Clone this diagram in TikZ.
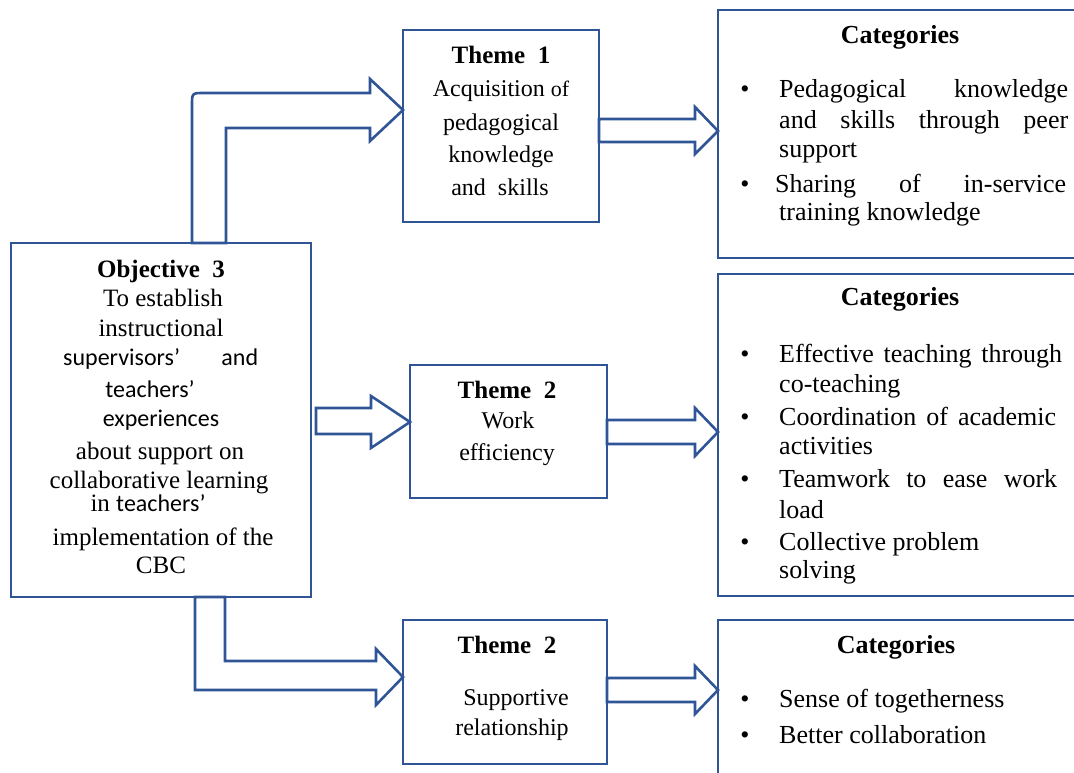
\documentclass[tikz,border=0pt]{standalone}
\usepackage{fontspec}
\setmainfont{Liberation Serif}
\newfontfamily\sansalt{Carlito}
\definecolor{frameblue}{RGB}{47,85,151}
\newcommand\objtext{\fontsize{25}{30}\selectfont}
\newcommand\cattext{\fontsize{26}{31}\selectfont}
\newcommand\thmtext{\fontsize{24}{29}\selectfont}
\newcommand\sanstext{\sansalt\fontsize{24}{29}\selectfont}
\tikzset{
  frame/.style={draw=frameblue, line width=2.6pt, outer sep=0pt, inner sep=0pt, anchor=north west},
  blockarrow/.style={draw=frameblue, line width=2.6pt, fill=white, line join=miter},
  t/.style={inner sep=0pt, anchor=base},
  tl/.style={inner sep=0pt, anchor=base west},
}
\begin{document}
\begin{tikzpicture}[x=1pt,y=-1pt]
\useasboundingbox (0,0) rectangle (1074,772);

% boxes
\node[frame, minimum width=300, minimum height=354] (obj) at (11,243) {};
\node[frame, minimum width=196, minimum height=192] (th1) at (403,30) {};
\node[frame, minimum width=197, minimum height=133] (th2) at (410,365) {};
\node[frame, minimum width=204, minimum height=144] (th3) at (403,620) {};
\node[frame, minimum width=370, minimum height=248] (cat1) at (718,10) {};
\node[frame, minimum width=370, minimum height=322] (cat2) at (718,274) {};
\node[frame, minimum width=370, minimum height=170] (cat3) at (718,620) {};

% block arrows from the objective to the themes
\draw[blockarrow] (192,0 |- obj.north) -- (192,105) .. controls (192,93) .. (204,93)
  -- (370,93) -- (370,79) -- (th1.west |- 0,110) -- (370,141) -- (370,128)
  -- (226,128) -- (226,0 |- obj.north) -- cycle;
\draw[blockarrow] (316,408) -- (371,408) -- (371,396) -- (th2.west |- 0,422)
  -- (371,448) -- (371,434) -- (316,434) -- cycle;
\draw[blockarrow] (195,0 |- obj.south) -- (195,690) -- (376,690) -- (376,705)
  -- (th3.west |- 0,677) -- (376,649) -- (376,661) -- (225,661)
  -- (225,0 |- obj.south) -- cycle;

% block arrows from the themes to the categories
\draw[blockarrow] (th1.east |- 0,119) -- (695,119) -- (695,107) -- (cat1.west |- 0,131)
  -- (695,154) -- (695,142) -- (th1.east |- 0,142) -- cycle;
\draw[blockarrow] (th2.east |- 0,420) -- (695,420) -- (695,408) -- (cat2.west |- 0,432)
  -- (695,456) -- (695,444) -- (th2.east |- 0,444) -- cycle;
\draw[blockarrow] (th3.east |- 0,678) -- (695,678) -- (695,666) -- (cat3.west |- 0,690)
  -- (695,714) -- (695,702) -- (th3.east |- 0,702) -- cycle;

% objective text
\node[t, font=\objtext\bfseries] (o1) at (161,277) {Objective\ \ 3};
\node[t, font=\objtext] (o2) at (163,306) {To establish};
\node[t, font=\objtext] (o3) at (161,336) {instructional};
\node[tl, font=\sanstext] (o4) at (63,365) {\makebox[195pt][s]{supervisors’ and}};
\node[t, font=\sanstext] (o5) at (150,397) {teachers’};
\node[t, font=\sanstext] (o6) at (161,426) {experiences};
\node[t, font=\objtext] (o7) at (160,459) {about support on};
\node[t, font=\objtext] (o8) at (159,488) {collaborative learning};
\node[t, font=\objtext] (o9) at (148,511) {in {\sanstext teachers’}};
\node[t, font=\objtext] (o10) at (163,545) {implementation of the};
\node[t, font=\objtext] (o11) at (161,573) {CBC};

% theme texts
\node[t, font=\objtext\bfseries] (t1a) at (501,63) {Theme\ \ 1};
\node[t, font=\thmtext] (t1b) at (501,96) {Acquisition {\fontsize{22}{26}\selectfont of}};
\node[t, font=\thmtext] (t1c) at (501,130) {pedagogical};
\node[t, font=\thmtext] (t1d) at (501,162) {knowledge};
\node[t, font=\thmtext] (t1e) at (500,195) {and\ \ skills};

\node[t, font=\objtext\bfseries] (t2a) at (507,398) {Theme\ \ 2};
\node[t, font=\thmtext] (t2b) at (508,428) {Work};
\node[t, font=\thmtext] (t2c) at (507,460) {efficiency};

\node[t, font=\objtext\bfseries] (t3a) at (507,653) {Theme\ \ 2};
\node[t, font=\thmtext] (t3b) at (516,705) {Supportive};
\node[t, font=\thmtext] (t3c) at (512,735) {relationship};

% category texts
\node[t, font=\cattext\bfseries] (c1h) at (900,43) {Categories};
\node[t, font=\cattext] (c1b1) at (745,97) {\textbullet};
\node[tl, font=\cattext] (c1l1) at (779,97) {\makebox[289pt][s]{Pedagogical knowledge}};
\node[tl, font=\cattext] (c1l2) at (779,128) {\makebox[289pt][s]{and skills through peer}};
\node[tl, font=\cattext] (c1l3) at (779,157) {support};
\node[t, font=\cattext] (c1b2) at (745,192) {\textbullet};
\node[tl, font=\cattext] (c1l4) at (775,192) {\makebox[291pt][s]{Sharing of in-service}};
\node[tl, font=\cattext] (c1l5) at (779,220) {training knowledge};

\node[t, font=\cattext\bfseries] (c2h) at (900,305) {Categories};
\node[t, font=\cattext] (c2b1) at (745,362) {\textbullet};
\node[tl, font=\cattext] (c2l1) at (779,362) {\makebox[283pt][s]{Effective teaching through}};
\node[tl, font=\cattext] (c2l2) at (779,392) {co-teaching};
\node[t, font=\cattext] (c2b2) at (745,425) {\textbullet};
\node[tl, font=\cattext] (c2l3) at (779,425) {\makebox[277pt][s]{Coordination of academic}};
\node[tl, font=\cattext] (c2l4) at (779,454) {activities};
\node[t, font=\cattext] (c2b3) at (745,487) {\textbullet};
\node[tl, font=\cattext] (c2l5) at (779,487) {\makebox[278pt][s]{Teamwork to ease work}};
\node[tl, font=\cattext] (c2l6) at (779,518) {load};
\node[t, font=\cattext] (c2b4) at (745,550) {\textbullet};
\node[tl, font=\cattext] (c2l7) at (779,550) {Collective problem};
\node[tl, font=\cattext] (c2l8) at (779,578) {solving};

\node[t, font=\cattext\bfseries] (c3h) at (896,653) {Categories};
\node[t, font=\cattext] (c3b1) at (745,707) {\textbullet};
\node[tl, font=\cattext] (c3l1) at (779,707) {Sense of togetherness};
\node[t, font=\cattext] (c3b2) at (745,743) {\textbullet};
\node[tl, font=\cattext] (c3l2) at (779,743) {Better collaboration};
\end{tikzpicture}
\end{document}
